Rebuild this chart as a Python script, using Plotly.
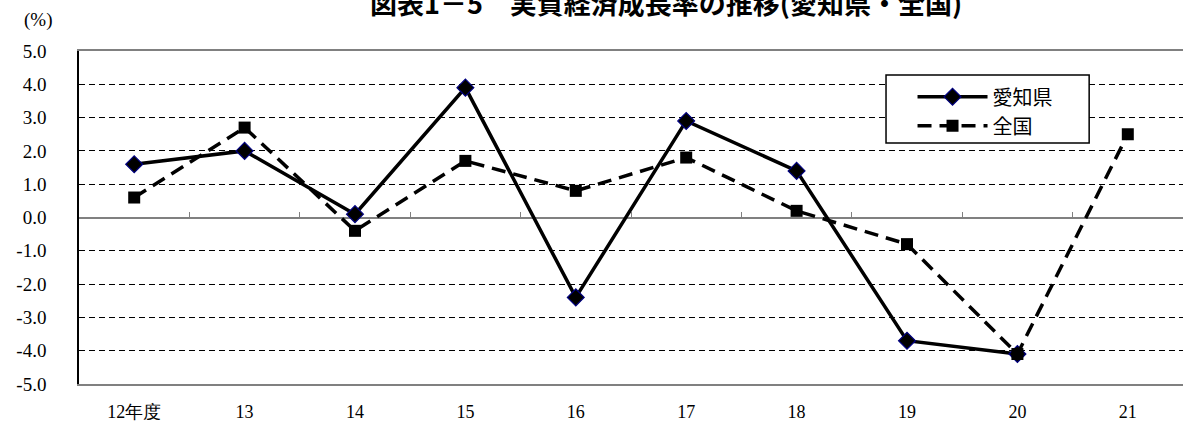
import plotly.graph_objects as go

# ---- data ----
categories = ["12年度", "13", "14", "15", "16", "17", "18", "19", "20", "21"]
aichi = [1.6, 2.0, 0.1, 3.9, -2.4, 2.9, 1.4, -3.7, -4.1, None]
national = [0.6, 2.7, -0.4, 1.7, 0.8, 1.8, 0.2, -0.8, -4.1, 2.5]
y_ticks = [5, 4, 3, 2, 1, 0, -1, -2, -3, -4, -5]
series_names = ["愛知県", "全国"]
title_text = "図表1－5　実質経済成長率の推移(愛知県・全国)"
unit_text = "(%)"

x = list(range(len(categories)))
boundaries = [i + 0.5 for i in x[:-1]]

SERIF = "Liberation Serif"
GOTHIC = "Noto Sans CJK JP"

fig = go.Figure()
fig.add_trace(go.Scatter(
    x=x, y=aichi, name=series_names[0], mode="lines+markers",
    line=dict(color="black", width=3.5),
    marker=dict(symbol="diamond", size=13, color="black",
                line=dict(color="#000080", width=1.2)),
))
fig.add_trace(go.Scatter(
    x=x, y=national, name=series_names[1], mode="lines+markers",
    line=dict(color="black", width=3.5, dash="14px,8px"),
    marker=dict(symbol="square", size=12, color="black"),
))
# invisible trace to activate the overlay axis carrying the zero-line ticks
fig.add_trace(go.Scatter(
    x=x, y=national, xaxis="x2", mode="lines", opacity=0,
    line=dict(width=0), showlegend=False, hoverinfo="skip",
))

fig.update_layout(
    width=1185, height=430,
    margin=dict(l=79, r=2, t=51, b=46),
    paper_bgcolor="white", plot_bgcolor="white",
    showlegend=True,
    legend=dict(
        x=0.755, y=0.921, xanchor="left", yanchor="top",
        borderwidth=0, bgcolor="rgba(0,0,0,0)",
        font=dict(family=GOTHIC, size=20, color="black"),
        itemwidth=70, tracegroupgap=0,
    ),
    shapes=[
        # legend frame
        dict(type="rect", xref="paper", yref="paper",
             x0=0.731, x1=0.915, y0=0.724, y1=0.928,
             line=dict(color="black", width=1.5), fillcolor="white",
             layer="above"),
    ],
    xaxis=dict(
        range=[-0.5, 9.5], tickmode="array", tickvals=x, ticktext=categories,
        showgrid=False, zeroline=False, showline=True, mirror=True,
        linecolor="#808080", linewidth=1.5, ticks="",
        ticklabelstandoff=11,
        tickfont=dict(family=SERIF, size=18, color="black"),
    ),
    xaxis2=dict(
        overlaying="x", anchor="free", position=0.5, side="bottom",
        range=[-0.5, 9.5], tickmode="array", tickvals=boundaries,
        showticklabels=False, ticks="inside", ticklen=6, tickwidth=1,
        tickcolor="#808080", showgrid=False, zeroline=False, showline=False,
    ),
    yaxis=dict(
        range=[-5, 5], tickmode="array", tickvals=y_ticks,
        ticktext=[f"{v:.1f}" for v in y_ticks],
        showgrid=True, gridcolor="black", gridwidth=1, griddash="6px,4px",
        zeroline=True, zerolinecolor="#808080", zerolinewidth=1.5,
        showline=True, linecolor="black", linewidth=1.5, ticks="",
        ticklabelstandoff=27,
        tickfont=dict(family=SERIF, size=19, color="black"),
    ),
    annotations=[
        dict(text="<b>" + title_text + "</b>", xref="paper", yref="paper",
             x=0.532, y=1.147, xanchor="center", yanchor="middle",
             showarrow=False, font=dict(family=GOTHIC, size=27, color="black")),
        dict(text=unit_text, xref="paper", yref="paper",
             x=-0.037, y=1.093, xanchor="center", yanchor="middle",
             showarrow=False, font=dict(family=SERIF, size=19, color="black")),
    ],
)

fig.write_html("out.html", config={"displayModeBar": False},
               post_script="document.body.style.margin='0px';")
